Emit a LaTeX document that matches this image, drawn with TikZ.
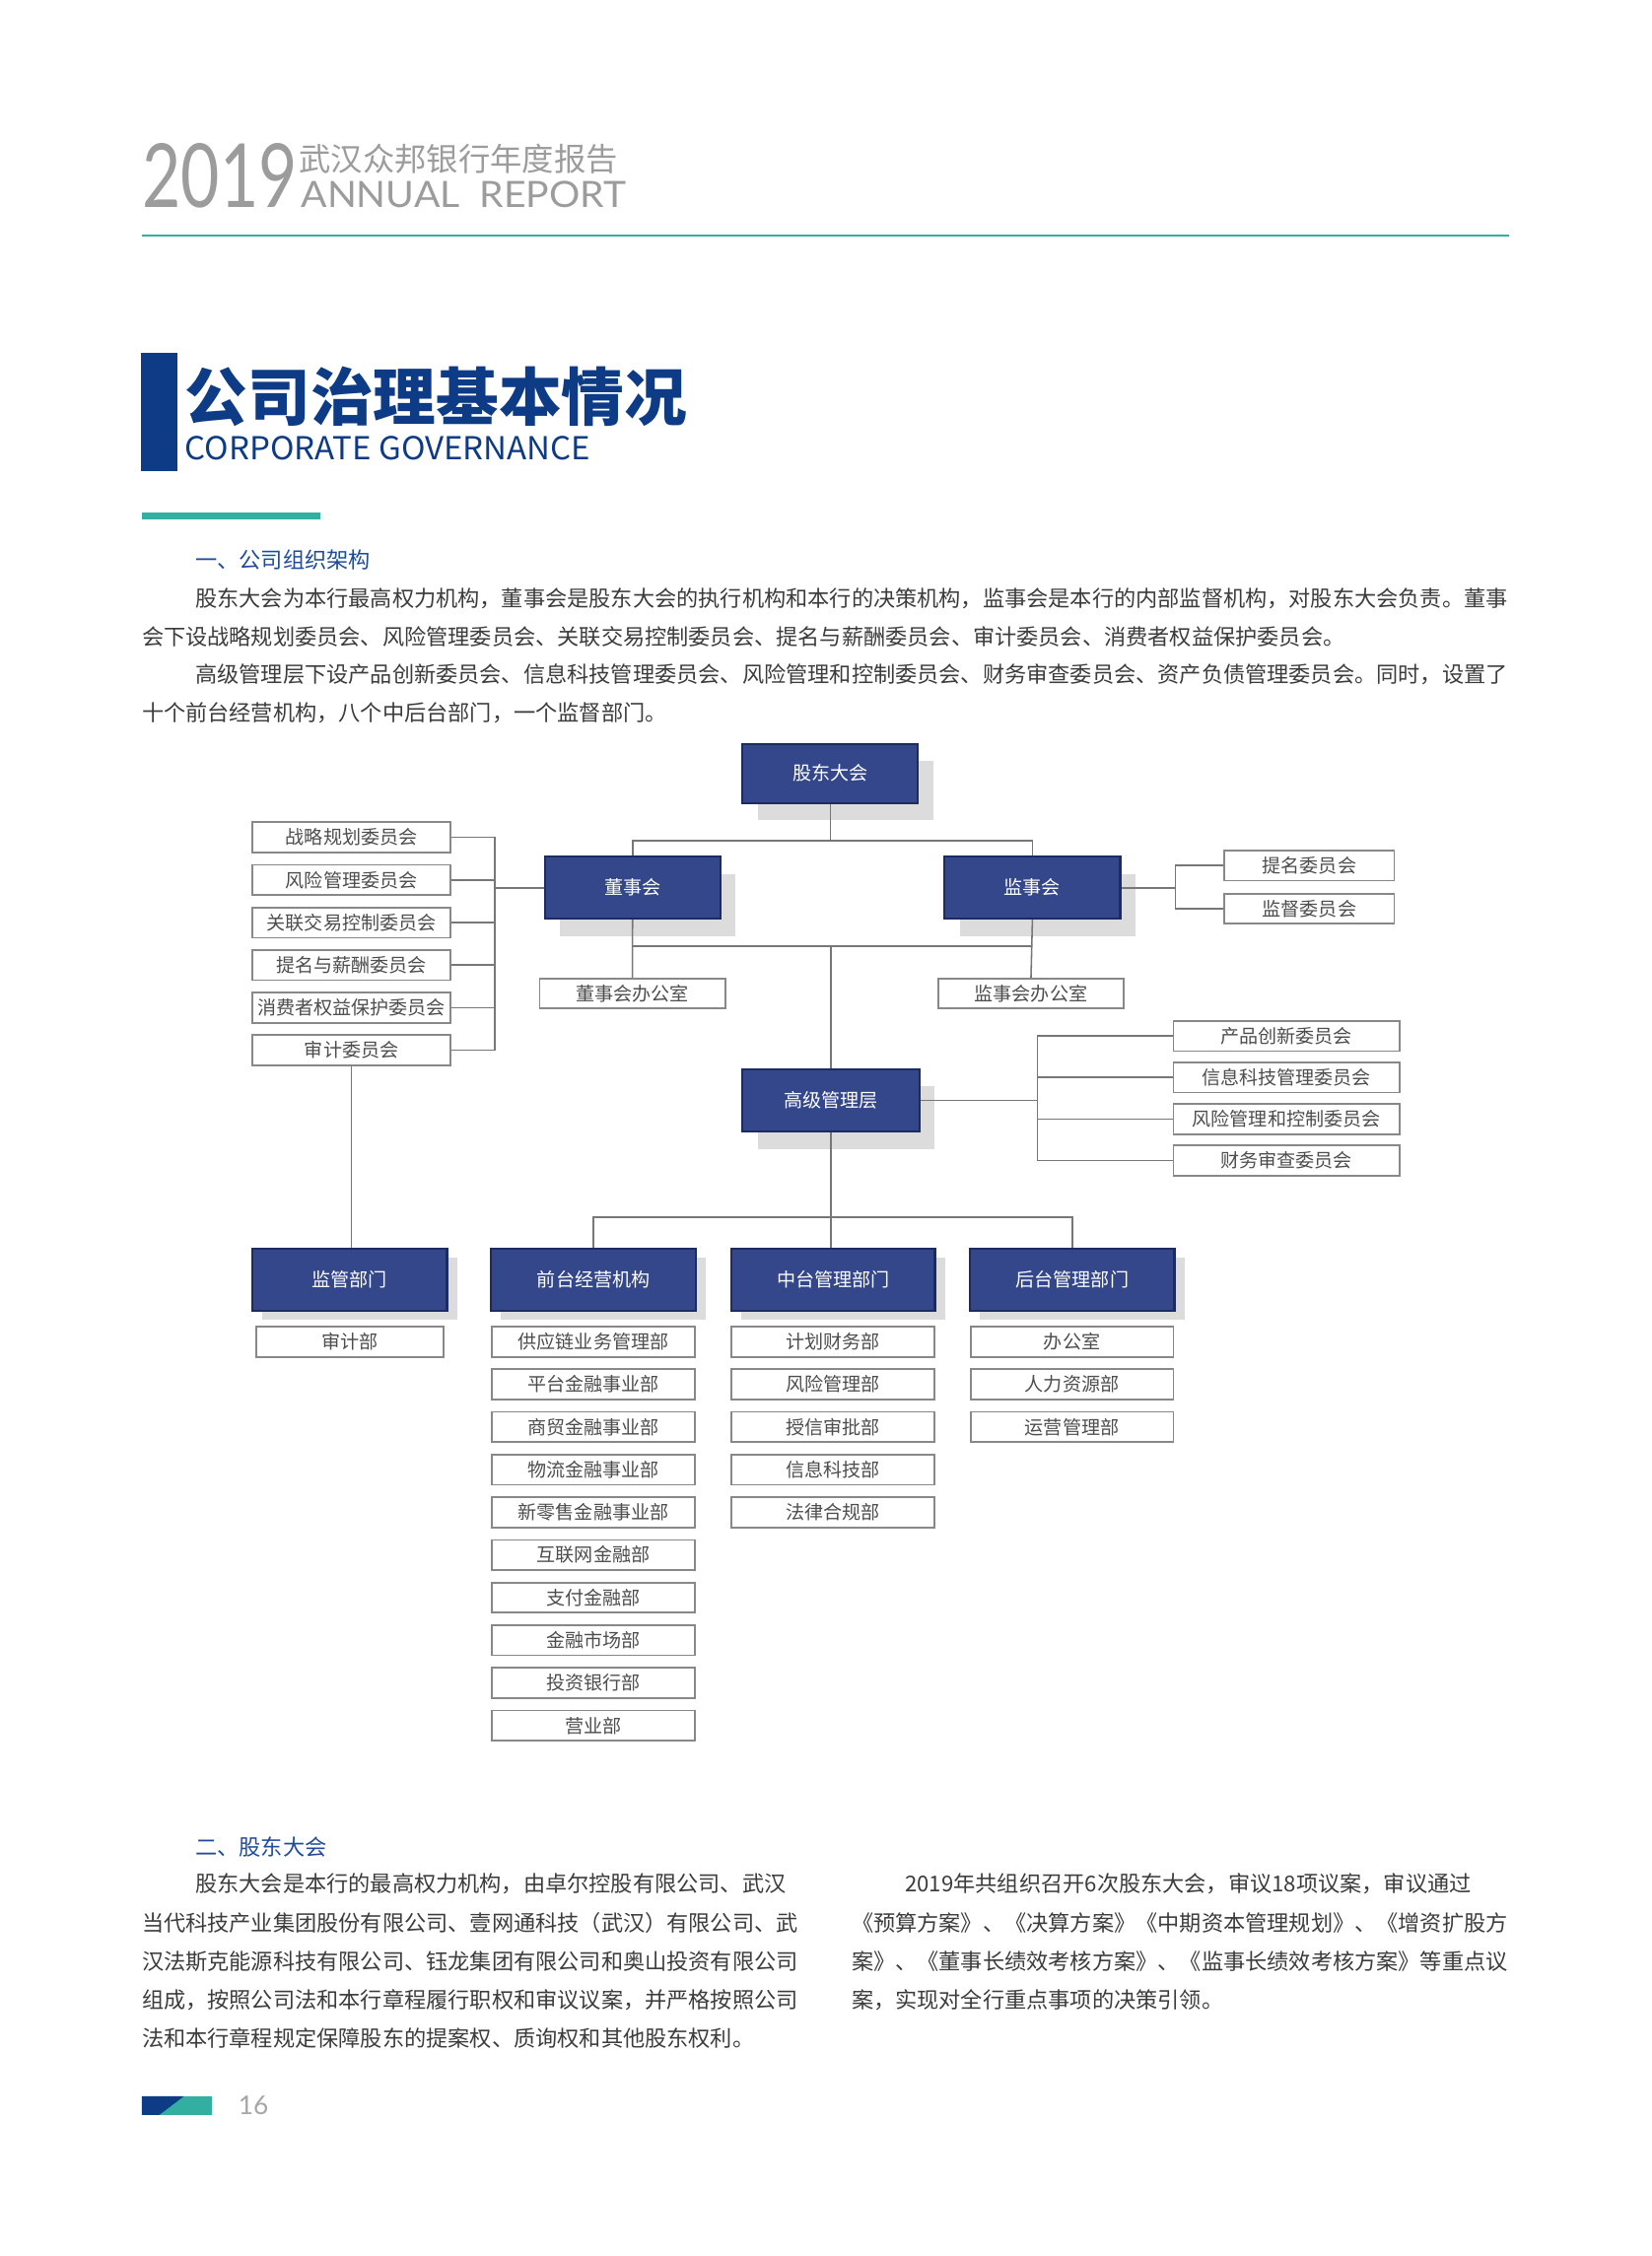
\documentclass[tikz,border=0pt]{standalone}
\usepackage{fontspec}
\usepackage{graphicx}
\setmainfont{Noto Sans CJK SC}
\newfontfamily\latfont{Lato}
\usetikzlibrary{shadows,calc}
\XeTeXlinebreaklocale "zh"
\XeTeXlinebreakskip=0pt plus 1fil
\definecolor{navy}{HTML}{34478A}
\definecolor{navyb}{HTML}{1D2B63}
\definecolor{shadowc}{HTML}{DCDCDC}
\definecolor{linec}{HTML}{777777}
\definecolor{boxline}{HTML}{888888}
\definecolor{boxtext}{HTML}{4D4D4D}
\definecolor{bodytext}{HTML}{3C3C3C}
\definecolor{headblue}{HTML}{1F4C9A}
\definecolor{titleblue}{HTML}{0E3B86}
\definecolor{tealc}{HTML}{33AFA1}
\definecolor{headgray}{HTML}{9C9C9C}
\tikzset{
  bw/.style={minimum width={#1*0.75pt}},
  bh/.style={minimum height={#1*0.75pt}},
  navybox/.style={draw=navyb, line width=1.1pt, fill=navy, text=white, inner sep=0pt,
    font=\fontsize{9.8pt}{11pt}\selectfont},
  bigsh/.style={drop shadow={shadow xshift=8pt, shadow yshift=-9pt, fill=shadowc, opacity=1}},
  smallsh/.style={drop shadow={shadow xshift=5.2pt, shadow yshift=-4.6pt, fill=shadowc, opacity=1}},
  wbox/.style={draw=boxline, line width=0.9pt, fill=white, text=boxtext, inner sep=0pt,
    font=\fontsize{9.8pt}{11pt}\selectfont, minimum height={21*0.75pt}},
  conn/.style={draw=linec, line width=0.8pt},
  body/.style={anchor=west, inner sep=0pt, text=bodytext, font=\fontsize{11.4pt}{12pt}\selectfont},
}
\begin{document}
\begin{tikzpicture}[x=0.75pt,y=-0.75pt]
\useasboundingbox (0,0) rectangle (1148,1568);
\fill[white] (0,0) rectangle (1148,1568);

% ---------- header ----------
\node[anchor=south west, inner sep=0pt] (year) at (98.8,145) {\resizebox{80.8pt}{33.4pt}{\color{headgray}\latfont 2019}};
\node[anchor=west, inner sep=0pt, text=headgray, font=\fontsize{16.6pt}{18pt}\selectfont] (hcn) at (207.7,110.7) {武汉众邦银行年度报告};
\node[anchor=south west, inner sep=0pt] (hen) at (209,145) {\resizebox{169.5pt}{13.7pt}{\color{headgray}\latfont ANNUAL\ \ REPORT}};
\fill[tealc] (98.6,162.7) rectangle (1049,164.7);

% ---------- title ----------
\fill[titleblue] (98.2,245.4) rectangle (123.2,327.6);
\node[anchor=west, inner sep=0pt, text=titleblue, font=\fontsize{32.7pt}{36pt}\selectfont\bfseries] (ttl) at (128.5,275.5) {公司治理基本情况};
\node[anchor=south west, inner sep=0pt] (ttle) at (128.4,320) {\resizebox{211.2pt}{12.3pt}{\color{titleblue}CORPORATE GOVERNANCE}};
\fill[tealc] (98.8,356.2) rectangle (222.8,360.8);

% ---------- section 1 text ----------
\node[body, text=headblue] (h1) at (135.6,389) {一、公司组织架构};
\node[body] (p1) at (135.6,416) {\makebox[685pt][s]{股东大会为本行最高权力机构，董事会是股东大会的执行机构和本行的决策机构，监事会是本行的内部监督机构，对股东大会负责。董事}};
\node[body] (p2) at (98.4,442.5) {会下设战略规划委员会、风险管理委员会、关联交易控制委员会、提名与薪酬委员会、审计委员会、消费者权益保护委员会。};
\node[body] (p3) at (135.6,469) {\makebox[685pt][s]{高级管理层下设产品创新委员会、信息科技管理委员会、风险管理和控制委员会、财务审查委员会、资产负债管理委员会。同时，设置了}};
\node[body] (p4) at (98.4,495.3) {十个前台经营机构，八个中后台部门，一个监督部门。};

% ---------- chart: main boxes ----------
\node[navybox,bigsh,bw=122,bh=41] (gd) at (577,537.5) {股东大会};
\node[navybox,bigsh,bw=122,bh=43] (ds) at (439.6,617) {董事会};
\node[navybox,bigsh,bw=122,bh=43] (js) at (717.5,617) {监事会};
\node[navybox,bigsh,bw=123,bh=43.5] (gj) at (577.5,764.8) {高级管理层};

% left committees
\foreach \t [count=\i] in {战略规划委员会,风险管理委员会,关联交易控制委员会,提名与薪酬委员会,消费者权益保护委员会,审计委员会}
  \node[wbox,bw=137.5] (c\i) at (244.3,{582+29.6*(\i-1)}) {\t};
% supervisory committees
\node[wbox,bw=118] (s1) at (910,601.5) {提名委员会};
\node[wbox,bw=118] (s2) at (910,631.6) {监督委员会};
% offices
\node[wbox,bw=129] (dso) at (439.5,690.5) {董事会办公室};
\node[wbox,bw=129] (jso) at (716.5,690.5) {监事会办公室};
% senior management committees
\foreach \t [count=\i] in {产品创新委员会,信息科技管理委员会,风险管理和控制委员会,财务审查委员会}
  \node[wbox,bw=157] (g\i) at (894,{720+28.85*(\i-1)}) {\t};

% bottom row
\node[navybox,smallsh,bw=135.3,bh=43.3] (jg) at (243,889.3) {监管部门};
\node[navybox,smallsh,bw=142.4,bh=43.3] (qt) at (412.5,889.3) {前台经营机构};
\node[navybox,smallsh,bw=141.5,bh=43.3] (zt) at (579,889.3) {中台管理部门};
\node[navybox,smallsh,bw=142,bh=43.3] (ht) at (745.2,889.3) {后台管理部门};

\node[wbox,bw=130] (sj) at (243,932.5) {审计部};
\foreach \t [count=\i from 0] in {供应链业务管理部,平台金融事业部,商贸金融事业部,物流金融事业部,新零售金融事业部,互联网金融部,支付金融部,金融市场部,投资银行部,营业部}
  \node[wbox,bw=141] (q\i) at (412.4,{932.5+29.65*\i}) {\t};
\foreach \t [count=\i from 0] in {计划财务部,风险管理部,授信审批部,信息科技部,法律合规部}
  \node[wbox,bw=141] (z\i) at (579,{932.5+29.65*\i}) {\t};
\foreach \t [count=\i from 0] in {办公室,人力资源部,运营管理部}
  \node[wbox,bw=141] (b\i) at (745,{932.5+29.65*\i}) {\t};

% ---------- connectors ----------
\coordinate (tb) at (577,584.3);
\draw[conn] (gd.south) -- (tb);
\draw[conn] (ds.north) |- (tb) -| (js.north);
\coordinate (mb) at (577.5,657.5);
\draw[conn] (ds.south) -- (dso.north);
\draw[conn] (js.south) -- (jso.north);
\draw[conn] (ds.south |- mb) -- (js.south |- mb);
\draw[conn] (mb) -- (gj.north);
\coordinate (lb) at (343.8,617);
\foreach \i in {1,...,6} \draw[conn] (c\i.east) -| (lb);
\draw[conn] (lb) -- (ds.west);
\coordinate (rb) at (817,617);
\draw[conn] (js.east) -- (rb);
\draw[conn] (s1.west) -| (rb);
\draw[conn] (s2.west) -| (rb);
\coordinate (gb) at (721,764.8);
\draw[conn] (gj.east) -- (gb);
\foreach \i in {1,...,4} \draw[conn] (g\i.west) -| (gb);
\draw[conn] (c6.south) -- (c6.south |- jg.north);
\draw[conn] (gj.south) -- (gj.south |- zt.north);
\coordinate (bb) at (577.5,846);
\draw[conn] (qt.north) |- (bb) -| (ht.north);

% ---------- section 2 text ----------
\node[body, text=headblue] (h2) at (135.6,1284) {二、股东大会};
\node[body] (l1) at (135.6,1309.5) {\makebox[316.4pt][s]{股东大会是本行的最高权力机构，由卓尔控股有限公司、武汉}};
\node[body] (l2) at (98.4,1336.3) {\makebox[344.3pt][s]{当代科技产业集团股份有限公司、壹网通科技（武汉）有限公司、武}};
\node[body] (l3) at (98.4,1363.1) {\makebox[344.3pt][s]{汉法斯克能源科技有限公司、钰龙集团有限公司和奥山投资有限公司}};
\node[body] (l4) at (98.4,1389.9) {\makebox[344.3pt][s]{组成，按照公司法和本行章程履行职权和审议议案，并严格按照公司}};
\node[body] (l5) at (98.4,1416.7) {法和本行章程规定保障股东的提案权、质询权和其他股东权利。};
\node[body] (r1) at (628.8,1309.5) {\makebox[314.2pt][s]{2019年共组织召开6次股东大会，审议18项议案，审议通过}};
\node[body] (r2) at (591.6,1336.3) {\makebox[342.1pt][s]{《预算方案》、《决算方案》《中期资本管理规划》、《增资扩股方}};
\node[body] (r3) at (591.6,1363.1) {\makebox[342.1pt][s]{案》、《董事长绩效考核方案》、《监事长绩效考核方案》等重点议}};
\node[body] (r4) at (591.6,1389.9) {案，实现对全行重点事项的决策引领。};

% ---------- footer ----------
\fill[tealc] (98.5,1457) rectangle (147,1470);
\fill[titleblue] (98.5,1457) -- (127.7,1457) -- (110.6,1470) -- (98.5,1470) -- cycle;
\node[anchor=west, inner sep=0pt, text=black!35, font=\latfont\fontsize{13.5pt}{14pt}\selectfont] (pg) at (165.5,1463.5) {16};
\end{tikzpicture}
\end{document}
